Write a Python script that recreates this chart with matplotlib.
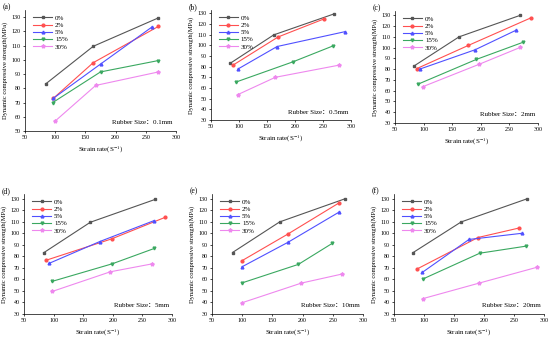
import matplotlib
matplotlib.use("Agg")
import matplotlib.pyplot as plt

plt.rcParams["font.family"] = ["Liberation Serif", "Noto Sans CJK SC"]
plt.rcParams["mathtext.fontset"] = "stix"

# --- данные: скорость деформации (x) и прочность (y) для каждой панели ---
series_names = ["0%", "2%", "5%", "15%", "30%"]
panel_tags = ["(a)", "(b)", "(c)", "(d)", "(e)", "(f)"]
rubber_sizes = ["0.1mm", "0.5mm", "2mm", "5mm", "10mm", "20mm"]

a_x = [[84, 163, 271], [97, 163, 271], [97, 175, 260], [96, 175, 271], [100, 167, 271]]
a_y = [[83, 109.5, 129.5], [73, 98, 123.5], [73, 97, 123], [70, 91.5, 99.5], [57, 82, 91.5]]

b_x = [[84, 162, 270], [90, 170, 252], [99, 168, 290], [95, 196, 268], [98, 165, 278]]
b_y = [[83, 109.7, 129.4], [81.6, 107.8, 124.7], [78, 98.8, 112.8], [65.6, 84.4, 99.4], [53.8, 70, 81.3]]

c_x = [[84, 162, 269], [88, 178, 287], [93, 190, 261], [90, 192, 274], [99, 197, 269]]
c_y = [[83.2, 110, 130], [80.5, 102, 127.5], [80, 98, 116], [66, 89, 105], [63.8, 84.5, 100.2]]

d_x = [[83, 162, 272], [88, 198, 289], [92, 178, 270], [97, 199, 270], [98, 196, 267]]
d_y = [[83, 109.5, 129.4], [76.7, 95.1, 113.9], [73.8, 92.8, 111], [58.2, 73.5, 86.8], [49.6, 66.6, 73.5]]

e_x = [[84, 162, 271], [99, 175, 261], [100, 176, 260], [100, 193, 249], [100, 198, 265]]
e_y = [[83.3, 109.8, 130], [76, 99.1, 126.5], [71, 92.2, 118.2], [57, 73, 91.2], [39.8, 56.8, 64.6]]

f_x = [[82, 162, 271], [88, 190, 259], [97, 175, 264], [98, 193, 270], [98, 192, 289]]
f_y = [[83.3, 109.8, 129.7], [68.9, 96.3, 104.6], [66, 94.6, 100], [60.3, 82.7, 88.8], [43.3, 56.8, 70.6]]

all_x = [a_x, b_x, c_x, d_x, e_x, f_x]
all_y = [a_y, b_y, c_y, d_y, e_y, f_y]
y_bottoms = [50, 30, 30, 30, 30, 30]

colors = ["#555555", "#ff5050", "#5050ff", "#3aa860", "#ee88ee"]
markers = ["s", "o", "^", "v", "*"]

# положение осей в пикселях: левый, правый, верхний, нижний край
W, H = 550, 337
boxes = [
    (25, 176, 10, 131),
    (211, 351, 10, 120),
    (395, 538, 11, 123),
    (24, 172, 194, 314),
    (212, 363, 194, 314),
    (394, 544, 194, 314),
]
y_tops = [135, 133, 134, 134, 134, 134]

fig = plt.figure(figsize=(W / 100, H / 100), dpi=100)

for i in range(6):
    l, r, t, b = boxes[i]
    ax = fig.add_axes([l / W, 1 - b / H, (r - l) / W, (b - t) / H])
    for k in range(5):
        ax.plot(all_x[i][k], all_y[i][k], color=colors[k], marker=markers[k],
                markersize=2.0 if markers[k] != "*" else 2.8, lw=0.8, label=series_names[k])
    ax.set_xlim(50, 300)
    ax.set_ylim(y_bottoms[i], y_tops[i])
    ax.set_xticks([50, 100, 150, 200, 250, 300])
    ax.set_yticks(range(y_bottoms[i], 131, 10))
    ax.spines["top"].set_visible(False)
    ax.spines["right"].set_visible(False)
    for s in ["left", "bottom"]:
        ax.spines[s].set_linewidth(0.5)
    ax.tick_params(labelsize=4.3, length=1.5, width=0.5, pad=1.5)
    ax.set_xlabel("Strain rate(S$^{-1}$)", fontsize=5, labelpad=3)
    ax.set_ylabel("Dynamic compressive strength(MPa)", fontsize=4.7, labelpad=3)
    ax.legend(loc="upper left", frameon=False, fontsize=5, handlelength=2.8,
              labelspacing=0.2, borderaxespad=0.3, handletextpad=0.4,
              bbox_to_anchor=(0.02, 1.0))
    ax.text(0.98, 0.05, "Rubber Size：" + rubber_sizes[i], transform=ax.transAxes,
            ha="right", va="bottom", fontsize=5)
    fig.text((l - 22) / W, 1 - (t - 7) / H, panel_tags[i], fontsize=5.5, va="top")

plt.savefig("out.png", dpi=100)
